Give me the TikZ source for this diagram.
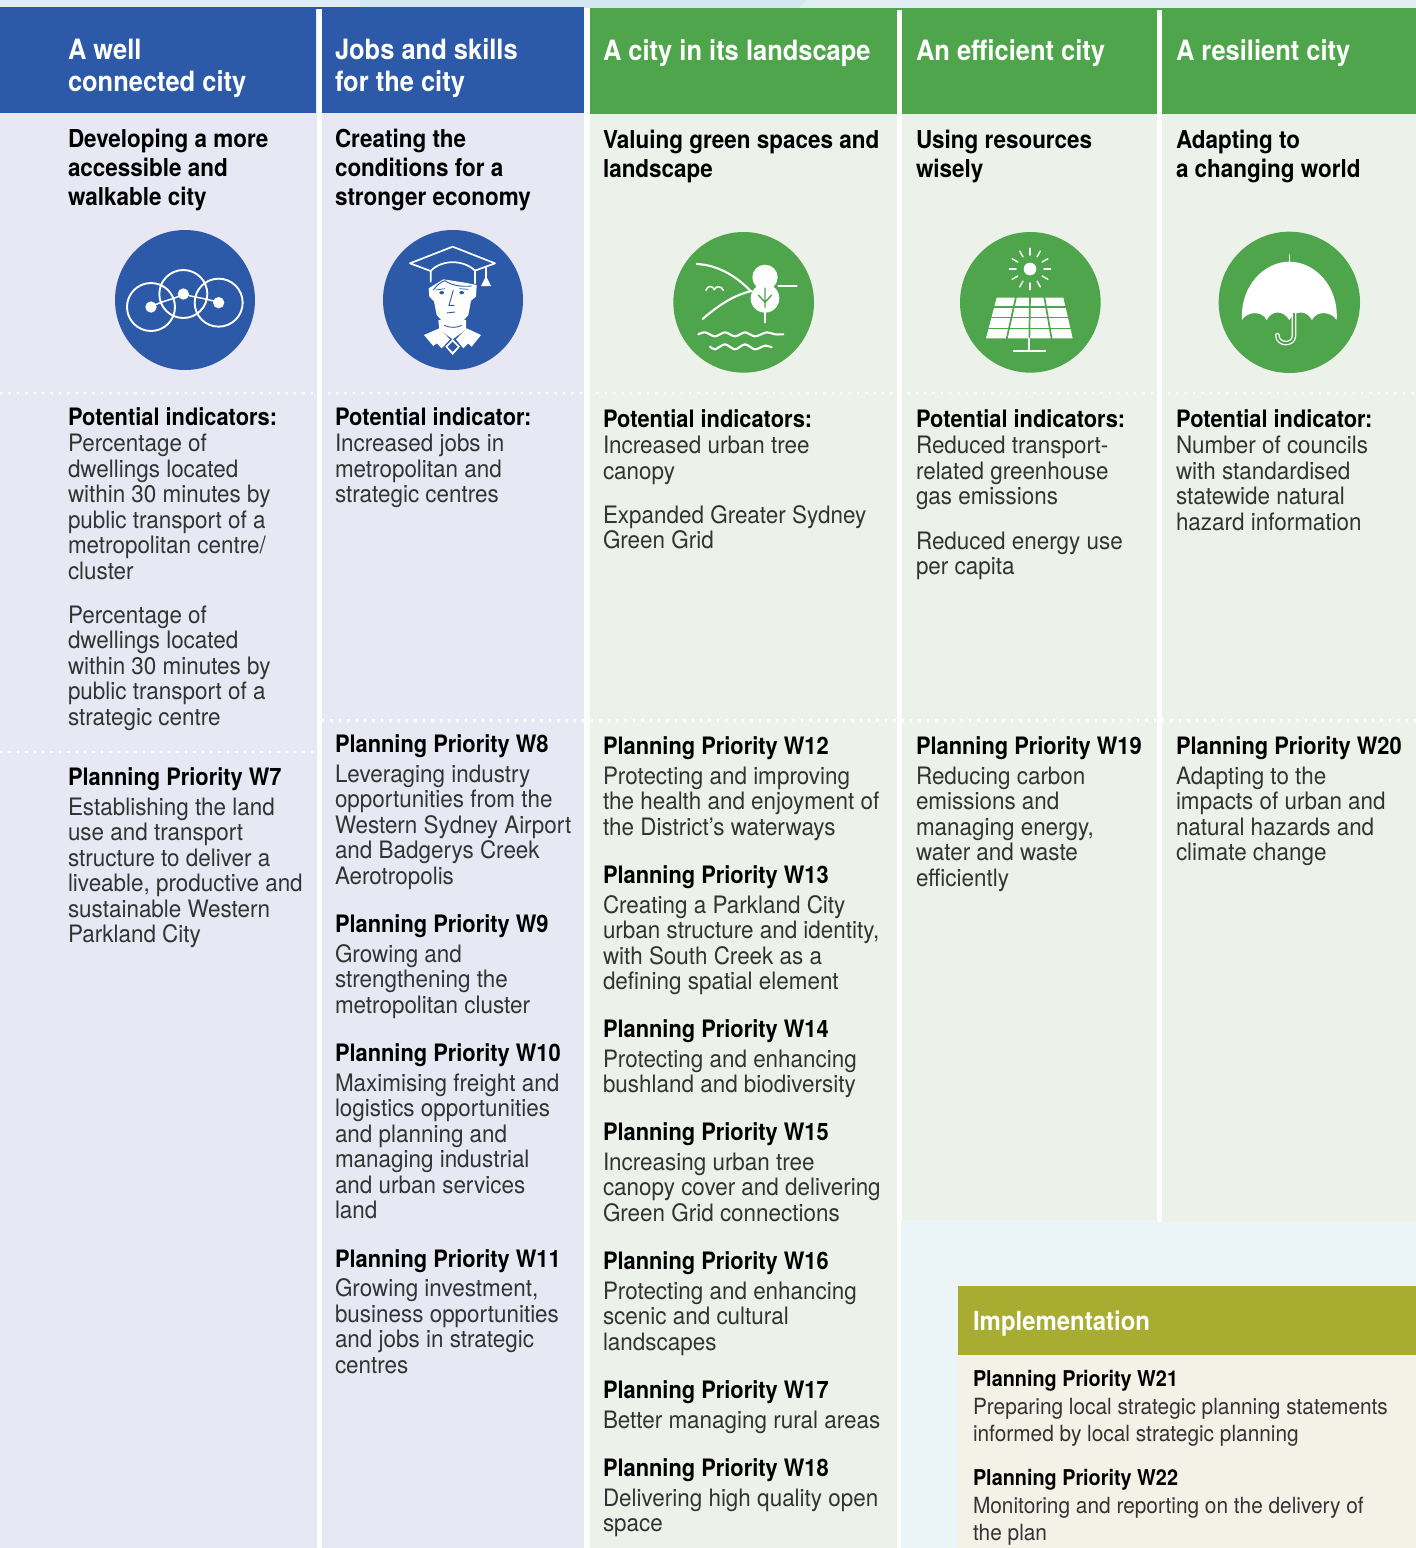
\documentclass[tikz,border=0pt]{standalone}
\usepackage{fontspec}
\setmainfont[FakeStretch=.935]{TeX Gyre Heros}
\newfontfamily\hdf[FakeStretch=.91]{TeX Gyre Heros}
\definecolor{cblue}{HTML}{2C5AA8}
\definecolor{cgreen}{HTML}{4FA54B}
\definecolor{lblue}{HTML}{E7E8F4}
\definecolor{lgreen}{HTML}{ECF2E9}
\definecolor{panel}{HTML}{EBF5F8}
\definecolor{olive}{HTML}{A8AC30}
\definecolor{lolive}{HTML}{F2F2E7}
\definecolor{strip}{HTML}{E0EEF3}
\definecolor{stripd}{HTML}{D2E8EE}
\definecolor{ink}{HTML}{333333}
\newcommand{\hd}[1]{{\hdf\bfseries\color{black}#1}}
\newcommand{\hdi}[1]{{\hdf\bfseries\color{black}\fontsize{21.8}{27}\selectfont #1}}
\newcommand{\fr}{\rule{0pt}{24pt}}
\tikzset{
  txt/.style={anchor=north west,inner sep=0pt,outer sep=0pt,align=left,text=ink,font=\fontsize{24}{25.5}\selectfont},
  ttl/.style={txt,text=white,font=\hdf\bfseries\fontsize{28}{32}\selectfont},
  sub/.style={txt,text=black,font=\hdf\bfseries\fontsize{24.7}{29}\selectfont},
  imp/.style={txt,font=\fontsize{22.3}{27}\selectfont},
  dots/.style={white,line width=2.4pt,dash pattern=on 2.4pt off 6pt},
  wl/.style={draw=white,line cap=round,line join=round},
}
\newcommand{\blk}[5][txt]{\node[#1] (#2) at ({#3},{#4-24}) {\fr#5};}
\begin{document}
\begin{tikzpicture}[x=1pt,y=-1pt]
\useasboundingbox (0,0) rectangle (1416,1548);
% backdrop
\fill[strip] (0,0) rectangle (1416,9);
\fill[stripd] (360,0) -- (806,0) -- (798,9) -- (360,9) -- cycle;
\fill[white] (0,8) rectangle (1416,1548);
% columns
\fill[lblue] (0,8) rectangle (317,1548);
\fill[lblue] (322,8) rectangle (584,1548);
\fill[lgreen] (590,8) rectangle (897,1548);
\fill[lgreen] (902,8) rectangle (1157,1222);
\fill[lgreen] (1162,8) rectangle (1416,1222);
\fill[cblue] (0,6.7) rectangle (584,9);
\fill[cgreen] (590,8) rectangle (1416,10);
\fill[cblue] (0,9) rectangle (316,112.7);
\fill[cblue] (322,9) rectangle (584,112.7);
\fill[cgreen] (590,9) rectangle (897,114.3);
\fill[cgreen] (902,10) rectangle (1157,114.3);
\fill[cgreen] (1162,10) rectangle (1416,114.3);
% bottom panel
\fill[panel] (900.5,1219.5) rectangle (1157.5,1548);
\fill[panel] (1157,1222) rectangle (1416,1548);
\fill[lolive] (958,1355) rectangle (1416,1548);
\fill[olive] (958,1286) rectangle (1416,1355);
% dotted rules
\draw[dots] (0,393) -- (1416,393);
\draw[dots] (0,752) -- (317,752);
\draw[dots] (322,720.5) -- (1416,720.5);

% icon 1: rings
\begin{scope}[shift={(80,210)},scale=.33333]
\fill[cblue] (315,270) circle (210);
\draw[wl,line width=1.9pt] (213,291) circle (72) (310,252) circle (72) (416,278) circle (72);
\draw[wl,line width=1.5pt] (213,291) .. controls (250,270) and (280,270) .. (310,252) .. controls (340,262) and (380,265) .. (416,278);
\fill[white] (213,291) circle (17) (310,252) circle (17) (416,278) circle (17);
\end{scope}

% icon 2: graduate
\fill[cblue] (453,300) circle (70);
\begin{scope}[shift={(400,240)},scale=.33333]
\draw[wl,line width=1.7pt] (92,125) -- (92,93) -- (30,70) -- (158,20) -- (285,70) -- (225,92) -- (225,130);
\draw[wl,line width=1.7pt] (92,93) .. controls (125,58) and (190,58) .. (225,92);
\draw[wl,line width=1.2pt] (258,80) -- (258,118);
\fill[white] (243,138) -- (273,138) -- (258,108) -- cycle;
\fill[white] (115,240) -- (198,240) -- (198,268) -- (158,298) -- (118,268) -- cycle;
\fill[white] (86,145) -- (88,170) -- (102,184) -- (110,225) -- (138,256) -- (178,256) -- (205,225) -- (213,182) -- (228,170) -- (230,135) -- (195,128) -- (130,118) -- cycle;
\fill[white] (72,285) -- (118,265) -- (150,298) -- (125,325) -- (110,310) -- (100,318) -- cycle;
\fill[white] (243,285) -- (200,265) -- (168,298) -- (190,325) -- (205,310) -- (215,320) -- cycle;
\fill[white] (158,297) -- (180,320) -- (158,345) -- (136,320) -- cycle;
\fill[cblue] (158,305) -- (173,320) -- (158,335) -- (143,320) -- cycle;
\draw[cblue,line width=.9pt] (100,150) .. controls (110,135) and (125,125) .. (135,122) .. controls (160,140) and (195,140) .. (215,138);
\draw[cblue,line width=.7pt] (108,150) -- (135,146) (178,146) -- (205,148);
\fill[cblue] (125,158) ellipse (7 and 5) (185,158) ellipse (7 and 5);
\draw[cblue,line width=.9pt] (160,150) -- (147,196) -- (163,196) (140,219) -- (165,216) (132,256) .. controls (150,264) and (170,264) .. (185,256);
\end{scope}

% icon 3: landscape
\begin{scope}[shift={(650,215)},scale=.33333]
\fill[cgreen] (281,262) circle (211);
\draw[wl,line width=2.1pt] (140,147) .. controls (210,150) and (265,190) .. (302,228);
\draw[wl,line width=2.1pt] (158,312) .. controls (200,275) and (250,240) .. (305,228);
\draw[wl,line width=2.1pt] (385,212) -- (440,212);
\draw[wl,line width=1.5pt] (168,226) .. controls (172,210) and (190,212) .. (193,224) .. controls (197,212) and (215,212) .. (220,226);
\fill[white] (345,187) circle (38) (345,250) circle (43);
\draw[cgreen,line width=1.4pt] (345,218) -- (345,282) (345,262) -- (325,240) (345,262) -- (365,240);
\draw[wl,line width=2.1pt] (345,280) -- (345,322);
\draw[wl,line width=2.1pt] plot[smooth] coordinates {(145,358) (165,352) (195,364) (225,352) (255,364) (285,352) (315,364) (350,352) (375,358) (400,358)};
\draw[wl,line width=2.1pt] plot[smooth] coordinates {(180,395) (195,403) (225,388) (255,403) (285,388) (315,403) (345,392) (365,397)};
\end{scope}

% icon 4: solar
\begin{scope}[shift={(650,215)},scale=.33333]
\fill[cgreen] (1141,262) circle (211);
\fill[white] (1140,162) circle (19);
\foreach \a in {0,30,...,330}{\draw[wl,line width=1.4pt] (1140,162) ++(\a:42) -- ++(\a:20);}
\fill[white] (1040,248) -- (1240,248) -- (1268,370) -- (1008,370) -- cycle;
\draw[cgreen,line width=1.5pt] (1030,275.5) -- (1250,275.5) (1020,308) -- (1260,308) (1010,340) -- (1265,340);
\draw[cgreen,line width=1.7pt] (1098,246) -- (1070,372) (1140,246) -- (1138,372) (1183,246) -- (1205,372);
\draw[white,line width=2pt] (1138,370) -- (1138,408) (1090,408) -- (1188,408);
\end{scope}

% icon 5: umbrella
\begin{scope}[shift={(1190,215)},scale=.33333]
\fill[cgreen] (298,262) circle (212);
\draw[wl,line width=1.6pt] (298,120) -- (298,145);
\fill[white] (156,315) .. controls (150,210) and (225,140) .. (298,140) .. controls (372,140) and (446,210) .. (440,315)
  .. controls (425,290) and (380,285) .. (366,315) .. controls (350,285) and (315,285) .. (298,315)
  .. controls (280,285) and (245,285) .. (230,315) .. controls (215,285) and (170,290) .. (156,315) -- cycle;
\draw[white,line width=4.6pt,line cap=round] (312,300) -- (312,362) .. controls (312,392) and (262,392) .. (262,360);
\draw[cgreen,line width=2pt,line cap=round] (312,296) -- (312,362) .. controls (312,392) and (262,392) .. (262,360);
\end{scope}

% headers
\blk[ttl]{t1}{68}{59}{A well\\connected city}
\blk[ttl]{t2}{335}{59}{Jobs and skills\\for the city}
\blk[ttl]{t3}{603}{60}{A city in its landscape}
\blk[ttl]{t4}{916}{60}{An efficient city}
\blk[ttl]{t5}{1176}{60}{A resilient city}
\blk[sub]{s1}{68}{147}{Developing a more\\accessible and\\walkable city}
\blk[sub]{s2}{335}{147}{Creating the\\conditions for a\\stronger economy}
\blk[sub]{s3}{603}{148}{Valuing green spaces and\\landscape}
\blk[sub]{s4}{916}{148}{Using resources\\wisely}
\blk[sub]{s5}{1176}{148}{Adapting to\\a changing world}

% indicators
\blk{i1}{68}{425}{\hd{Potential indicators:}\\[1pt]Percentage of\\dwellings located\\within 30 minutes by\\public transport of a\\metropolitan centre/\\cluster}
\blk{i1b}{68}{623}{Percentage of\\dwellings located\\within 30 minutes by\\public transport of a\\strategic centre}
\blk{i2}{335}{425}{\hd{Potential indicator:}\\[1pt]Increased jobs in\\metropolitan and\\strategic centres}
\blk{i3}{603}{427}{\hd{Potential indicators:}\\[1pt]Increased urban tree\\canopy}
\blk{i3b}{603}{523}{Expanded Greater Sydney\\Green Grid}
\blk{i4}{916}{427}{\hd{Potential indicators:}\\[1pt]Reduced transport-\\related greenhouse\\gas emissions}
\blk{i4b}{916}{549}{Reduced energy use\\per capita}
\blk{i5}{1176}{427}{\hd{Potential indicator:}\\[1pt]Number of councils\\with standardised\\statewide natural\\hazard information}

% priorities
\blk{w7}{68}{785}{\hd{Planning Priority W7}\\[4.5pt]Establishing the land\\use and transport\\structure to deliver a\\liveable, productive and\\sustainable Western\\Parkland City}
\blk{w8}{335}{752}{\hd{Planning Priority W8}\\[4.5pt]Leveraging industry\\opportunities from the\\Western Sydney Airport\\and Badgerys Creek\\Aerotropolis}
\blk{w9}{335}{932}{\hd{Planning Priority W9}\\[4.5pt]Growing and\\strengthening the\\metropolitan cluster}
\blk{w10}{335}{1061}{\hd{Planning Priority W10}\\[4.5pt]Maximising freight and\\logistics opportunities\\and planning and\\managing industrial\\and urban services\\land}
\blk{w11}{335}{1267}{\hd{Planning Priority W11}\\[4pt]Growing investment,\\business opportunities\\and jobs in strategic\\centres}
\blk{w12}{603}{754}{\hd{Planning Priority W12}\\[4.5pt]Protecting and improving\\the health and enjoyment of\\the District’s waterways}
\blk{w13}{603}{883}{\hd{Planning Priority W13}\\[4.5pt]Creating a Parkland City\\urban structure and identity,\\with South Creek as a\\defining spatial element}
\blk{w14}{603}{1037}{\hd{Planning Priority W14}\\[4.5pt]Protecting and enhancing\\bushland and biodiversity}
\blk{w15}{603}{1140}{\hd{Planning Priority W15}\\[4.5pt]Increasing urban tree\\canopy cover and delivering\\Green Grid connections}
\blk{w16}{603}{1269}{\hd{Planning Priority W16}\\[4.5pt]Protecting and enhancing\\scenic and cultural\\landscapes}
\blk{w17}{603}{1398}{\hd{Planning Priority W17}\\[4.5pt]Better managing rural areas}
\blk{w18}{603}{1476}{\hd{Planning Priority W18}\\[4.5pt]Delivering high quality open\\space}
\blk{w19}{916}{754}{\hd{Planning Priority W19}\\[4.5pt]Reducing carbon\\emissions and\\managing energy,\\water and waste\\efficiently}
\blk{w20}{1176}{754}{\hd{Planning Priority W20}\\[4.5pt]Adapting to the\\impacts of urban and\\natural hazards and\\climate change}

% implementation
\node[txt,text=white,font=\hdf\bfseries\fontsize{26.3}{30}\selectfont,anchor=base west] (impl) at (973,1330) {Implementation};
\blk[imp]{w21}{973}{1386}{\hdi{Planning Priority W21}\\[1pt]Preparing local strategic planning statements\\informed by local strategic planning}
\blk[imp]{w22}{973}{1485}{\hdi{Planning Priority W22}\\[1pt]Monitoring and reporting on the delivery of\\the plan}
\end{tikzpicture}
\end{document}
